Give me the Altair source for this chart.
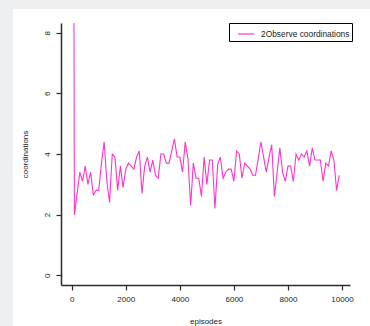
import altair as alt
import pandas as pd

# Episode index (every 100 episodes) and the observed coordination counts
episodes = list(range(0, 10000, 100))
coordinations = [
    40.0, 2.0, 2.7, 3.4, 3.1, 3.6, 3.0, 3.4, 2.65, 2.8,
    2.8, 3.7, 4.4, 3.1, 2.4, 4.0, 3.9, 2.8, 3.6, 2.9,
    3.5, 3.7, 3.6, 3.5, 3.9, 4.1, 2.7, 3.6, 3.9, 3.4,
    3.8, 3.3, 3.2, 4.0, 4.0, 3.7, 3.7, 4.1, 4.5, 3.9,
    3.9, 3.4, 4.4, 3.85, 2.3, 3.7, 3.2, 3.2, 2.6, 3.9,
    3.0, 3.8, 3.8, 2.2, 3.65, 3.9, 3.2, 3.4, 3.5, 3.5,
    3.1, 4.1, 4.0, 3.2, 3.7, 3.6, 3.5, 3.3, 3.3, 3.85,
    4.4, 3.9, 3.4, 3.9, 4.3, 2.6, 3.4, 4.2, 3.4, 3.1,
    3.6, 3.6, 3.1, 4.0, 3.8, 4.0, 3.9, 4.1, 3.6, 4.2,
    3.8, 3.8, 3.8, 3.1, 3.7, 3.6, 4.1, 3.8, 2.8, 3.3,
]
series_name = "2Observe coordinations"
line_color = "#ff33cc"

x_ticks = [0, 2000, 4000, 6000, 8000, 10000]
y_ticks = [0, 2, 4, 6, 8]

df = pd.DataFrame({"episodes": episodes, "coordinations": coordinations, "series": series_name})

FONT = "Liberation Sans"
AXIS_COLOR = "#2b2b2b"
MARGIN_GRAY = "#eeeff1"

line = alt.Chart(df).mark_line(strokeWidth=1.1, clip=True).encode(
    x=alt.X(
        "episodes:Q",
        scale=alt.Scale(domain=[-396, 10296], nice=False, zero=False),
        axis=alt.Axis(values=x_ticks, title="episodes", format="d", labelPadding=5, titlePadding=14),
    ),
    y=alt.Y(
        "coordinations:Q",
        scale=alt.Scale(domain=[-0.32, 8.32], nice=False, zero=False),
        axis=alt.Axis(
            values=y_ticks, title="coordinations", labelAngle=270,
            labelAlign="center", labelBaseline="bottom", labelPadding=5, titlePadding=14,
        ),
    ),
    color=alt.Color(
        "series:N",
        scale=alt.Scale(domain=[series_name], range=[line_color]),
        legend=alt.Legend(
            title=None, orient="none", legendX=168, legendY=0,
            strokeColor="black", fillColor="white", padding=2,
            symbolType="stroke", symbolSize=256, symbolStrokeWidth=1.2,
            symbolOffset=6, labelOffset=6, labelFontSize=8.4, labelFont=FONT, labelColor="#222222",
        ),
    ),
)

# gray page margins around the white sheet (left strip and top strip)
left_strip = alt.Chart(alt.Data(values=[{}])).mark_rect(color=MARGIN_GRAY).encode(
    x=alt.value(-61), x2=alt.value(-48), y=alt.value(-23), y2=alt.value(303)
)
top_strip = alt.Chart(alt.Data(values=[{}])).mark_rect(color=MARGIN_GRAY).encode(
    x=alt.value(-61), x2=alt.value(309), y=alt.value(-23), y2=alt.value(-14)
)

chart = alt.layer(line, left_strip, top_strip).properties(
    width=289, height=262,
    autosize=alt.AutoSizeParams(type="none"),
    padding={"left": 61, "top": 23, "right": 20, "bottom": 41},
).configure(
    background="white",
).configure_view(
    strokeWidth=0,
).configure_axis(
    grid=False, domainColor=AXIS_COLOR, domainWidth=1.5, tickColor=AXIS_COLOR, tickWidth=1.2,
    tickSize=5, labelFont=FONT, labelFontSize=8, labelColor="#222222",
    titleFont=FONT, titleFontSize=8, titleFontWeight="normal", titleColor="#222222",
)

chart.save("out.html", embed_options={"renderer": "svg", "actions": False})
